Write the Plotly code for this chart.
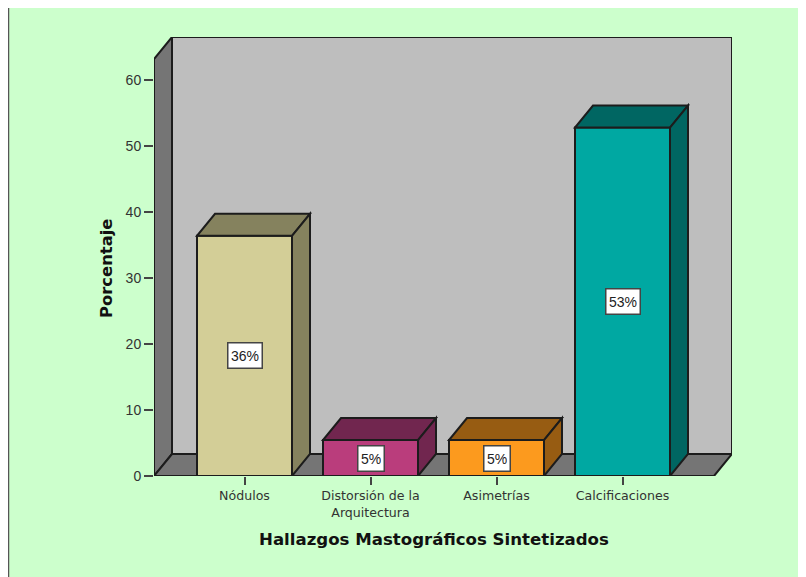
import plotly.graph_objects as go

categories = ["Nódulos", "Distorsión de la<br>Arquitectura", "Asimetrías", "Calcificaciones"]
values = [36.4, 5.45, 5.45, 52.8]
labels = ["36%", "5%", "5%", "53%"]
front_colors = ["#D3CE97", "#BA3D7C", "#FC9A1E", "#00A8A2"]
side_colors = ["#85825E", "#71264F", "#975C12", "#006662"]
y_ticks = [0, 10, 20, 30, 40, 50, 60]
x_title = "Hallazgos Mastográficos Sintetizados"
y_title = "Porcentaje"

OUTLINE = "#1c1c1c"
X_UNIT = 126.0   # px per category
Y_UNIT = 6.6     # px per percent
DX = 18 / X_UNIT
DY = 22 / Y_UNIT
BAR_W = 95 / X_UNIT
X_MIN = (154 - 244.5) / X_UNIT
X_FRONT_MAX = (714 - 244.5) / X_UNIT
Y_MAX = (476 - 37) / Y_UNIT
X_MAX = X_FRONT_MAX + DX
PLOT_W = 578
PLOT_H = 439

xs = list(range(len(categories)))


def poly(points, fill, layer="below", width=2):
    d = "M " + " L ".join(f"{x},{y}" for x, y in points) + " Z"
    return dict(type="path", path=d, xref="x", yref="y", fillcolor=fill,
                line=dict(color=OUTLINE, width=width), layer=layer)


shapes = [
    poly([(X_MIN + DX, DY), (X_MAX, DY), (X_MAX, Y_MAX), (X_MIN + DX, Y_MAX)], "#BEBEBE"),
    poly([(X_MIN, 0), (X_MIN + DX, DY), (X_MIN + DX, Y_MAX), (X_MIN, Y_MAX - DY)], "#757575"),
    poly([(X_MIN, 0), (X_FRONT_MAX, 0), (X_MAX, DY), (X_MIN + DX, DY)], "#757575"),
    dict(type="line", xref="paper", yref="paper",
         x0=(8.5 - 154) / PLOT_W, x1=(8.5 - 154) / PLOT_W,
         y0=(476 - 577) / PLOT_H, y1=(476 - 8) / PLOT_H,
         line=dict(color="#555555", width=1.5)),
]
for x, v, side in zip(xs, values, side_colors):
    l, r = x - BAR_W / 2, x + BAR_W / 2
    shapes.append(poly([(l, v), (r, v), (r + DX, v + DY), (l + DX, v + DY)], side, "above"))
    shapes.append(poly([(r, 0), (r + DX, DY), (r + DX, v + DY), (r, v)], side, "above"))

annotations = [
    dict(x=x, y=v / 2, xref="x", yref="y", text=t, showarrow=False, height=19,
         xanchor="center", yanchor="middle",
         font=dict(family="Liberation Sans", size=14, color="#222222"),
         bgcolor="white", bordercolor="#444444", borderwidth=1.5, borderpad=2.5)
    for x, v, t in zip(xs, values, labels)
]
annotations += [
    dict(x=(433.5 - 154) / PLOT_W, y=(476 - 539) / PLOT_H, xref="paper", yref="paper",
         xanchor="center", yanchor="middle",
         text=f"<b>{x_title}</b>", showarrow=False,
         font=dict(family="DejaVu Sans", size=16.6, color="#111111")),
    dict(x=(106 - 154) / PLOT_W, y=(476 - 268) / PLOT_H, xref="paper", yref="paper",
         xanchor="center", yanchor="middle",
         text=f"<b>{y_title}</b>", showarrow=False, textangle=-90,
         font=dict(family="DejaVu Sans", size=16.4, color="#111111")),
]

fig = go.Figure(go.Bar(
    x=xs, y=values, width=BAR_W,
    marker=dict(color=front_colors, line=dict(color=OUTLINE, width=2)),
    hoverinfo="skip",
))
fig.update_layout(
    width=798, height=569, autosize=False,
    margin=dict(l=146, r=74, t=29, b=101, pad=0),
    paper_bgcolor="#CCFFCC", plot_bgcolor="rgba(0,0,0,0)",
    showlegend=False, shapes=shapes, annotations=annotations,
    font=dict(family="DejaVu Sans", color="#333333"),
    xaxis=dict(
        range=[X_MIN, X_MAX], tickmode="array", tickvals=xs, ticktext=categories,
        ticks="outside", ticklen=8, tickwidth=2, tickcolor="#444444",
        tickfont=dict(family="DejaVu Sans", size=12.6, color="#333333"),
        showgrid=False, zeroline=False, showline=False,
    ),
    yaxis=dict(
        range=[0, Y_MAX], tickmode="array", tickvals=y_ticks,
        ticks="outside", ticklen=9, tickwidth=2, tickcolor="#444444",
        tickfont=dict(family="Liberation Sans", size=14, color="#333333"),
        showgrid=False, zeroline=False, showline=False,
    ),
)
fig.write_html("out.html", post_script="document.body.style.marginBottom='0';document.documentElement.style.overflow='hidden';")
